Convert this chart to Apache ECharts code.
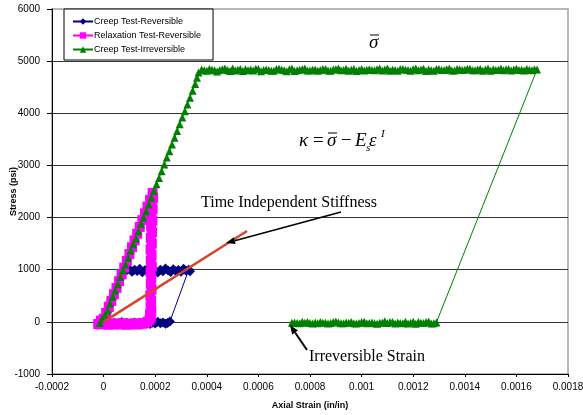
<!DOCTYPE html>
<html><head><meta charset="utf-8">
<script src="https://cdn.jsdelivr.net/npm/echarts@6/dist/echarts.min.js"></script>
<style>html,body{margin:0;padding:0;background:#fff}#c{width:583px;height:415px}</style>
</head><body><div id="c"></div>
<script>
const seriesNames = ['Creep Test-Reversible', 'Relaxation Test-Reversible', 'Creep Test-Irreversible'];
const xTickLabels = ['-0.0002','0','0.0002','0.0004','0.0006','0.0008','0.001','0.0012','0.0014','0.0016','0.0018'];
const yTickLabels = ['-1000','0','1000','2000','3000','4000','5000','6000'];

// strains in microstrain (x 1e-6 in/in), stresses in psi
const creepRevStrain = [0,10,20,30,40,50,60,70,80,
  90,100,110,120,130,140,150,160,170,180,190,200,210,220,230,240,250,260,270,280,290,300,310,320,330,335,
  257,248,240,230,220,210,200,190,180,170,160,150,140,130,120,110,100,90,80,70,60,50,40];
const creepRevStress = [-30,90,220,350,480,610,740,860,960,
  990,1010,960,1000,975,1020,950,990,1005,965,1015,980,945,1000,970,1025,985,955,1010,975,995,960,1020,980,1000,970,
  5,-20,-35,-10,-25,0,-30,-15,-40,-20,-5,-30,-15,-35,-10,-25,-40,-15,-30,-5,-20,-35,-15];

const relaxStrain = [-20,-10,0,10,20,30,40,50,60,70,80,90,100,110,120,130,140,150,160,170,180,190,
  192,187,190,185,189,184,188,183,187,182,186,183,187,182,185,183,186,181,184,182,185,180,183,
  178,170,160,150,
  140,130,120,110,100,90,80,70,60,50,40,30,20,10,0,-10,-20];
const relaxStress = [-40,20,60,170,290,400,530,650,780,910,1040,1170,1300,1430,1560,1690,1820,1950,2080,2210,2340,2470,
  2380,2270,2160,2050,1940,1830,1720,1610,1500,1390,1280,1170,1060,950,840,730,620,510,400,300,210,140,80,
  40,0,-25,-35,
  -35,-50,-30,-45,-35,-55,-40,-30,-50,-35,-45,-30,-55,-40,-35,-50,-40];

// Creep Test-Irreversible: loading, creep hold at ~4830 psi, unloading then recovery at zero stress
const irrevLoadStrain = [-15,-5,5,15,25,35,45,55,65,75,85,95,105,115,125,135,145,155,165,175,185,195,205,215,225,235,245,255,265,275,285,295,305,315,325,335,345,355,362,368];
const irrevLoadStress = [-20,60,120,220,350,480,600,720,860,990,1100,1230,1370,1490,1600,1740,1880,2000,2120,2250,2380,2510,2640,2760,2890,3020,3150,3270,3400,3530,3660,3790,3920,4040,4170,4300,4430,4560,4680,4780];
const irrevHoldStrain = [
  380,390,400,410,420,430,440,450,460,470,
  480,490,500,510,520,530,540,550,560,570,
  580,590,600,610,620,630,640,650,660,670,
  680,690,700,710,720,730,740,750,760,770,
  780,790,800,810,820,830,840,850,860,870,
  880,890,900,910,920,930,940,950,960,970,
  980,990,1000,1010,1020,1030,1040,1050,1060,1070,
  1080,1090,1100,1110,1120,1130,1140,1150,1160,1170,
  1180,1190,1200,1210,1220,1230,1240,1250,1260,1270,
  1280,1290,1300,1310,1320,1330,1340,1350,1360,1370,
  1380,1390,1400,1410,1420,1430,1440,1450,1460,1470,
  1480,1490,1500,1510,1520,1530,1540,1550,1560,1570,
  1580,1590,1600,1610,1620,1630,1640,1650,1660,1670,
  1680];
const irrevHoldStress = [
  4840,4825,4815,4850,4835,4825,4800,4830,4845,4860,
  4830,4810,4860,4820,4835,4850,4810,4845,4825,4840,
  4820,4855,4850,4805,4830,4840,4830,4815,4815,4850,
  4855,4835,4825,4805,4845,4860,4810,4825,4835,4845,
  4860,4820,4820,4835,4840,4815,4830,4850,4850,4820,
  4815,4840,4845,4860,4825,4830,4855,4815,4835,4850,
  4810,4830,4850,4820,4835,4845,4830,4825,4845,4860,
  4820,4840,4860,4815,4835,4830,4815,4850,4850,4835,
  4830,4815,4845,4860,4825,4840,4855,4810,4840,4825,
  4815,4850,4850,4830,4830,4845,4860,4820,4820,4850,
  4845,4830,4835,4855,4855,4825,4825,4840,4850,4815,
  4840,4860,4815,4845,4830,4835,4860,4825,4845,4850,
  4820,4840,4855,4830,4835,4820,4850,4835,4825,4845,
  4840];
const irrevRecoverStrain = [
  1290,1280,1270,1260,1250,1240,1230,1220,1210,1200,
  1190,1180,1170,1160,1150,1140,1130,1120,1110,1100,
  1090,1080,1070,1060,1050,1040,1030,1020,1010,1000,
  990,980,970,960,950,940,930,920,910,900,
  890,880,870,860,850,840,830,820,810,800,
  790,780,770,760,750,740,730];
const irrevRecoverStress = [
  -10,-25,-30,5,-5,-20,-15,-5,-35,0,
  -15,-30,0,-25,-20,-10,-30,-5,-5,-20,
  10,-15,-15,-35,-25,-10,-20,-25,0,-5,
  -20,-30,-25,-5,-15,-10,-25,-25,-10,5,
  -5,-20,-30,-15,-15,-5,-25,-10,-30,-20,
  -5,-15,0,-25,-20,-10,-15];

const fitStrain = [0, 556];
const fitStress = [0, 1743];

function pairs(s, p) { return s.map((v, i) => [v / 1e6, p[i]]); }
const creepIrrevStrain = irrevLoadStrain.concat(irrevHoldStrain, irrevRecoverStrain);
const creepIrrevStress = irrevLoadStress.concat(irrevHoldStress, irrevRecoverStress);

const chart = echarts.init(document.getElementById('c'), null, {renderer: 'canvas'});
const FONT = '"Liberation Sans", Arial, sans-serif';
const SERIF = '"Liberation Serif", "Times New Roman", serif';

function arrow(x1, y1, x2, y2, w) {
  const dx = x2 - x1, dy = y2 - y1, L = Math.hypot(dx, dy);
  const ux = dx / L, uy = dy / L, hl = 9, hw = 3.5;
  const bx = x2 - ux * hl, by = y2 - uy * hl;
  return [
    {type: 'line', shape: {x1, y1, x2: bx, y2: by}, style: {stroke: '#000', lineWidth: w}, z: 100},
    {type: 'polygon', shape: {points: [[x2, y2], [bx - uy * hw, by + ux * hw], [bx + uy * hw, by - ux * hw]]}, style: {fill: '#000'}, z: 100}
  ];
}
function txt(t, x, y, font, extra) {
  return Object.assign({type: 'text', x, y, z: 100, style: {text: t, font, fill: '#000', align: 'left', verticalAlign: 'middle'}}, extra || {});
}

const option = {
  animation: false,
  backgroundColor: '#fff',
  grid: {left: 52, right: 15, top: 9, bottom: 41, containLabel: false, outerBoundsMode: 'none',
         show: true, borderColor: '#a0a0a0', borderWidth: 1.5, backgroundColor: '#fff'},
  legend: {
    data: seriesNames, orient: 'vertical', left: 64, top: 9,
    backgroundColor: '#fff', borderColor: '#000', borderWidth: 1, borderRadius: 0,
    padding: [8, 12, 6, 8], itemGap: 5, itemWidth: 20, itemHeight: 8,
    textStyle: {fontSize: 9, fontFamily: FONT, color: '#000', padding: [0, 0, 0, -4]}
  },
  xAxis: {
    type: 'value', min: -0.0002, max: 0.0018, interval: 0.0002,
    name: 'Axial Strain (in/in)', nameLocation: 'middle', nameGap: 27, nameMoveOverlap: false,
    nameTextStyle: {fontSize: 9, fontWeight: 'bold', fontFamily: FONT, color: '#000'},
    axisLine: {onZero: false, lineStyle: {color: '#000', width: 1}},
    axisTick: {show: true, length: 3, lineStyle: {color: '#000'}},
    axisLabel: {fontSize: 10, fontFamily: FONT, color: '#000', margin: 8, formatter: (v, i) => xTickLabels[i]},
    splitLine: {show: false}
  },
  yAxis: {
    type: 'value', min: -1000, max: 6000, interval: 1000,
    name: 'Stress (psi)', nameLocation: 'middle', nameGap: 34, nameMoveOverlap: false,
    nameTextStyle: {fontSize: 9, fontWeight: 'bold', fontFamily: FONT, color: '#000'},
    axisLine: {show: true, onZero: false, lineStyle: {color: '#000', width: 1}},
    axisTick: {show: true, length: 5, lineStyle: {color: '#000'}},
    axisLabel: {fontSize: 10, fontFamily: FONT, color: '#000', margin: 12, formatter: (v, i) => yTickLabels[i]},
    splitLine: {show: true, showMaxLine: false, lineStyle: {color: '#333', width: 1}}
  },
  series: [
    {name: seriesNames[0], type: 'line', data: pairs(creepRevStrain, creepRevStress),
     symbol: 'diamond', symbolSize: 10, itemStyle: {color: '#000080'}, lineStyle: {color: '#000080', width: 1}},
    {name: seriesNames[1], type: 'line', data: pairs(relaxStrain, relaxStress),
     symbol: 'rect', symbolSize: 10, itemStyle: {color: '#ff00ff'}, lineStyle: {color: '#ff00ff', width: 1}},
    {name: seriesNames[2], type: 'line', data: pairs(creepIrrevStrain, creepIrrevStress),
     symbol: 'triangle', symbolSize: 8, itemStyle: {color: '#008000'}, lineStyle: {color: '#008000', width: 1}},
    {name: 'fit', type: 'line', data: pairs(fitStrain, fitStress), symbol: 'none',
     lineStyle: {color: '#d9432c', width: 2.5}, z: 5}
  ],
  graphic: [
    txt('σ', 369, 43, 'italic 19px ' + SERIF),
    {type: 'line', shape: {x1: 370, y1: 35, x2: 379, y2: 35}, style: {stroke: '#000', lineWidth: 1}, z: 100},
    txt('κ', 299, 141, 'italic 19px ' + SERIF),
    txt('=', 313, 141, '19px ' + SERIF),
    txt('σ', 327, 141, 'italic 19px ' + SERIF),
    {type: 'line', shape: {x1: 328, y1: 133, x2: 337, y2: 133}, style: {stroke: '#000', lineWidth: 1}, z: 100},
    txt('−', 341, 141, '19px ' + SERIF),
    txt('E', 355, 141, 'italic 19px ' + SERIF),
    txt('s', 366, 148, 'italic 11px ' + SERIF),
    txt('ε', 369, 141, 'italic 19px ' + SERIF),
    txt('I', 381, 134, 'italic 11px ' + SERIF),
    txt('Time Independent Stiffness', 201, 203, '16px ' + SERIF),
    txt('Irreversible Strain', 309, 357, '16px ' + SERIF)
  ].concat(arrow(341, 212, 226, 243, 1.5)).concat(arrow(307, 350, 290, 325, 2))
};
chart.setOption(option);
</script>
</body></html>
